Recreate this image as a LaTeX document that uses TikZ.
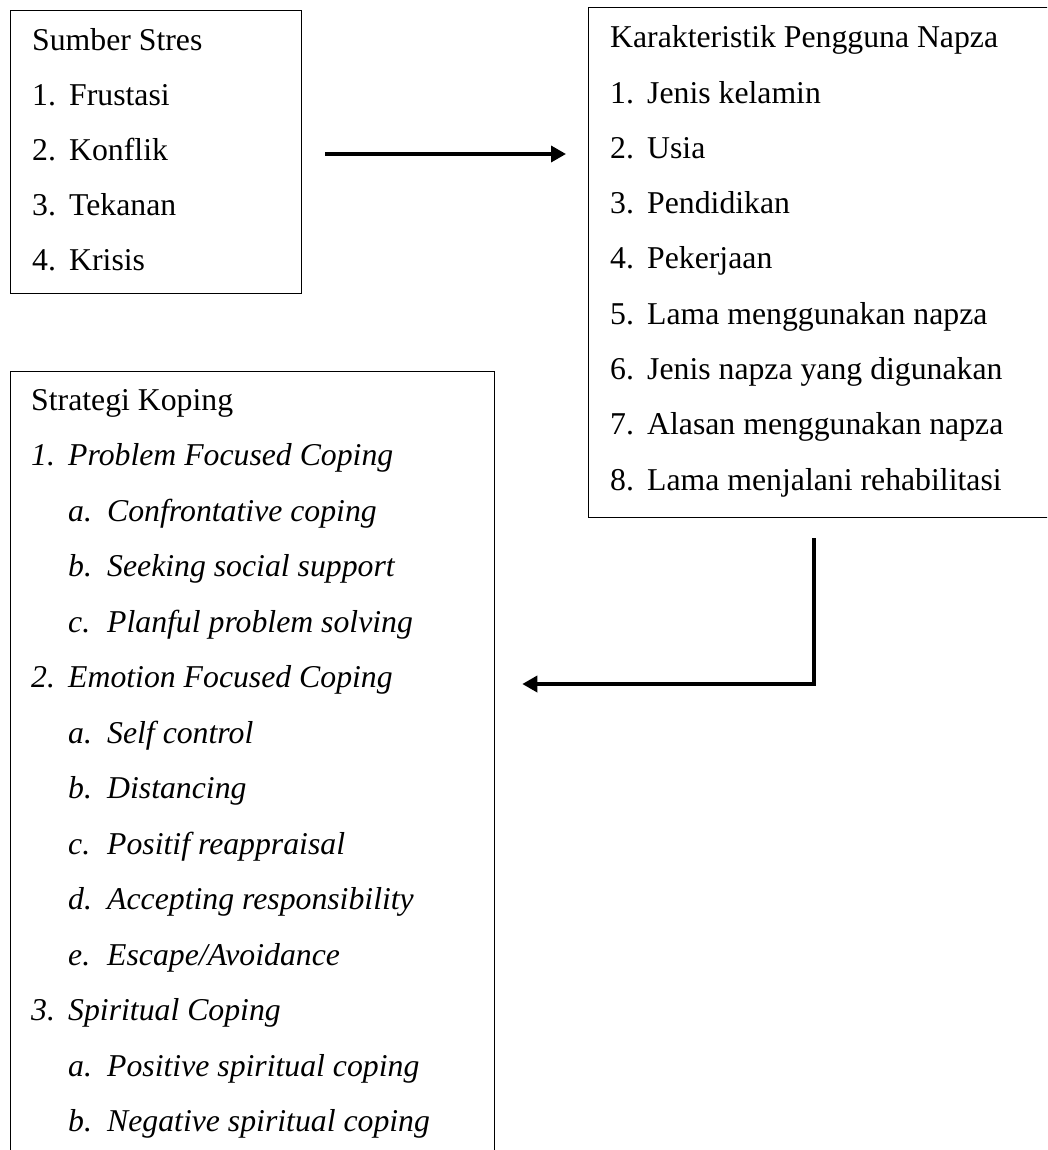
\documentclass[tikz,border=0pt]{standalone}
\usepackage{fontspec}
\setmainfont{Liberation Serif}
\usetikzlibrary{arrows.meta,calc}
\newcommand{\myfs}{\fontsize{31.75}{38}\selectfont}
\newcommand{\numA}[1]{\makebox[37pt][l]{#1}}
\newcommand{\numB}[1]{\makebox[39pt][l]{#1}}
\begin{document}
\begin{tikzpicture}[x=1pt,y=-1pt,
  box/.style={draw, line width=1.3pt, inner sep=0pt, anchor=north west},
  txt/.style={anchor=base west, inner sep=0pt, font=\myfs},
  itx/.style={anchor=base west, inner sep=0pt, font=\myfs\itshape},
  arr/.style={line width=3.5pt, -{Triangle[length=15pt,width=16pt]}, line join=miter}]
\clip (0,0) rectangle (1047,1150);
\fill[white] (0,0) rectangle (1047,1150);
% boxes
\node[box, minimum width=291pt, minimum height=283pt] (sumber) at (10,10) {};
\node[box, minimum width=480pt, minimum height=510pt] (karak) at (588,7) {};
\node[box, minimum width=484pt, minimum height=800pt] (strat) at (10,371) {};
% box 1 text
\node[txt] (s0) at (32,51) {Sumber Stres};
\foreach \t [count=\i] in {Frustasi,Konflik,Tekanan,Krisis}
  \node[txt] (s\i) at (32,51+54.75*\i) {\numA{\i.}\t};
% box 2 text
\node[txt] (k0) at (610,48) {Karakteristik Pengguna Napza};
\foreach \t [count=\i] in {Jenis kelamin,Usia,Pendidikan,Pekerjaan,Lama menggunakan napza,Jenis napza yang digunakan,Alasan menggunakan napza,Lama menjalani rehabilitasi}
  \node[txt] (k\i) at (610,48+55.25*\i) {\numA{\i.}\t};
% box 3 text
\def\sp{55.5}
\node[txt] (t0) at (31,410) {Strategi Koping};
\node[itx] (t1) at (31,410+1*\sp) {\numA{1.}Problem Focused Coping};
\node[itx] (t2) at (68,410+2*\sp) {\numB{a.}Confrontative coping};
\node[itx] (t3) at (68,410+3*\sp) {\numB{b.}Seeking social support};
\node[itx] (t4) at (68,410+4*\sp) {\numB{c.}Planful problem solving};
\node[itx] (t5) at (31,410+5*\sp) {\numA{2.}Emotion Focused Coping};
\node[itx] (t6) at (68,410+6*\sp) {\numB{a.}Self control};
\node[itx] (t7) at (68,410+7*\sp) {\numB{b.}Distancing};
\node[itx] (t8) at (68,410+8*\sp) {\numB{c.}Positif reappraisal};
\node[itx] (t9) at (68,410+9*\sp) {\numB{d.}Accepting responsibility};
\node[itx] (t10) at (68,410+10*\sp) {\numB{e.}Escape/Avoidance};
\node[itx] (t11) at (31,410+11*\sp) {\numA{3.}Spiritual Coping};
\node[itx] (t12) at (68,410+12*\sp) {\numB{a.}Positive spiritual coping};
\node[itx] (t13) at (68,410+13*\sp) {\numB{b.}Negative spiritual coping};
% connectors
\coordinate (a1s) at ($(sumber.north east)+(23,144)$);
\coordinate (a1e) at ($(karak.north west)+(-22,147)$);
\draw[arr] (a1s) -- (a1e);
\coordinate (a2s) at ($(karak.south west)+(226,20)$);
\coordinate (a2e) at ($(strat.north east)+(27,313)$);
\draw[arr] (a2s) |- (a2e);
\end{tikzpicture}
\end{document}
